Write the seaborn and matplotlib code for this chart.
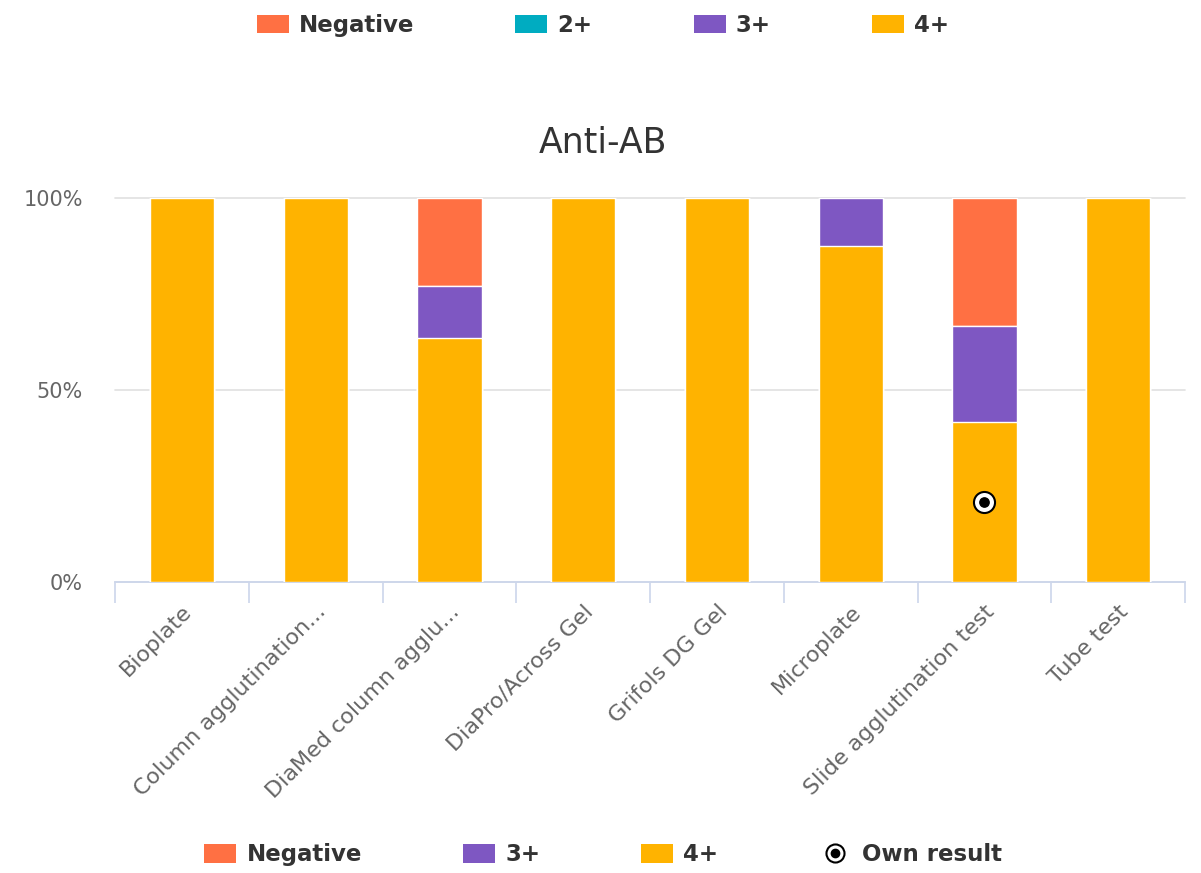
import matplotlib
matplotlib.use("Agg")
import matplotlib.pyplot as plt
from matplotlib.lines import Line2D
from matplotlib.patches import Patch
import numpy as np
import pandas as pd
import seaborn as sns

# data (percent of results per method)
categories = ["Bioplate", "Column agglutination...", "DiaMed column agglu...",
              "DiaPro/Across Gel", "Grifols DG Gel", "Microplate",
              "Slide agglutination test", "Tube test"]
pct_4plus = [100, 100, 63.6, 100, 100, 87.5, 41.7, 100]
pct_3plus = [0, 0, 13.6, 0, 0, 12.5, 25.0, 0]
pct_2plus = [0, 0, 0, 0, 0, 0, 0, 0]
pct_negative = [0, 0, 22.8, 0, 0, 0, 33.3, 0]
own_category = "Slide agglutination test"
own_grade = "4+"

colors = {"Negative": "#FF7043", "2+": "#00ACC1", "3+": "#7E57C2", "4+": "#FFB300"}

sns.set_theme(style="white")
plt.rcParams["font.family"] = ["DejaVu Sans"]

df = pd.DataFrame({"method": categories, "4+": pct_4plus, "3+": pct_3plus,
                   "2+": pct_2plus, "Negative": pct_negative})
# cumulative tops for stacking, bottom to top: 4+, 3+, 2+, Negative
stack = ["4+", "3+", "2+", "Negative"]
cum = df[stack].cumsum(axis=1)

fig = plt.figure(figsize=(12.01, 8.73), dpi=100)
ax = fig.add_axes([0.0958, 0.3333, 0.8909, 0.4399])

for level in reversed(stack):
    sns.barplot(x=df["method"], y=cum[level], color=colors[level], width=0.48,
                edgecolor="white", linewidth=1, saturation=1, ax=ax, zorder=3)

# own result marker, in the middle of its grade segment
i = categories.index(own_category)
lvl = stack.index(own_grade)
seg_top = cum[own_grade][i]
seg_bot = cum[stack[lvl - 1]][i] if lvl > 0 else 0
own_y = (seg_top + seg_bot) / 2
ax.scatter([i], [own_y], s=230, facecolor="white", edgecolor="black", linewidth=1.5, zorder=5)
ax.scatter([i], [own_y], s=45, color="black", zorder=6)

ax.set_xlim(-0.5, len(categories) - 0.5)
ax.set_ylim(0, 100)
ax.set_yticks([0, 50, 100])
ax.set_yticklabels(["0%", "50%", "100%"])
ax.yaxis.grid(True, color="#e0e0e0", linewidth=1.2, zorder=0)
for gl in ax.get_ygridlines():
    gl.set_clip_on(False)
ax.set_xlabel("")
ax.set_ylabel("")
for s in ["left", "top", "right"]:
    ax.spines[s].set_visible(False)
ax.spines["bottom"].set_color("#ccd6eb")
ax.spines["bottom"].set_linewidth(1.3)

ax.set_xticks(range(len(categories)))
ax.set_xticklabels(categories, rotation=45, ha="right", rotation_mode="anchor")
ax.set_xticks(np.arange(-0.5, len(categories)), minor=True)
ax.tick_params(axis="x", which="major", length=0, pad=14, labelsize=16, labelcolor="#666666")
ax.tick_params(axis="x", which="minor", length=15, width=1.2, color="#ccd6eb", bottom=True)
ax.tick_params(axis="y", length=0, pad=23, labelsize=15, labelcolor="#666666")

fig.text(0.502, 0.836, "Anti-AB", ha="center", va="center", fontsize=25, color="#333333")

legend_kw = dict(loc="center", ncol=4, frameon=False, handlelength=1.4, handleheight=0.87,
                 handletextpad=0.45, columnspacing=4.4,
                 prop={"weight": "bold", "size": 16.5}, labelcolor="#333333")

# top legend
top_labels = ["Negative", "2+", "3+", "4+"]
top_handles = [Patch(facecolor=colors[k], edgecolor="none") for k in top_labels]
fig.legend(top_handles, top_labels, bbox_to_anchor=(0.502, 0.971), **legend_kw)

# bottom legend
own_handle = (Line2D([], [], marker="o", linestyle="none", markersize=13, markerfacecolor="white",
                     markeredgecolor="black", markeredgewidth=1.5),
              Line2D([], [], marker="o", linestyle="none", markersize=6, color="black"))
bot_labels = ["Negative", "3+", "4+"]
bot_handles = [Patch(facecolor=colors[k], edgecolor="none") for k in bot_labels] + [own_handle]
fig.legend(bot_handles, bot_labels + ["Own result"], bbox_to_anchor=(0.502, 0.021), **legend_kw)

fig.savefig("out.png", dpi=100)
